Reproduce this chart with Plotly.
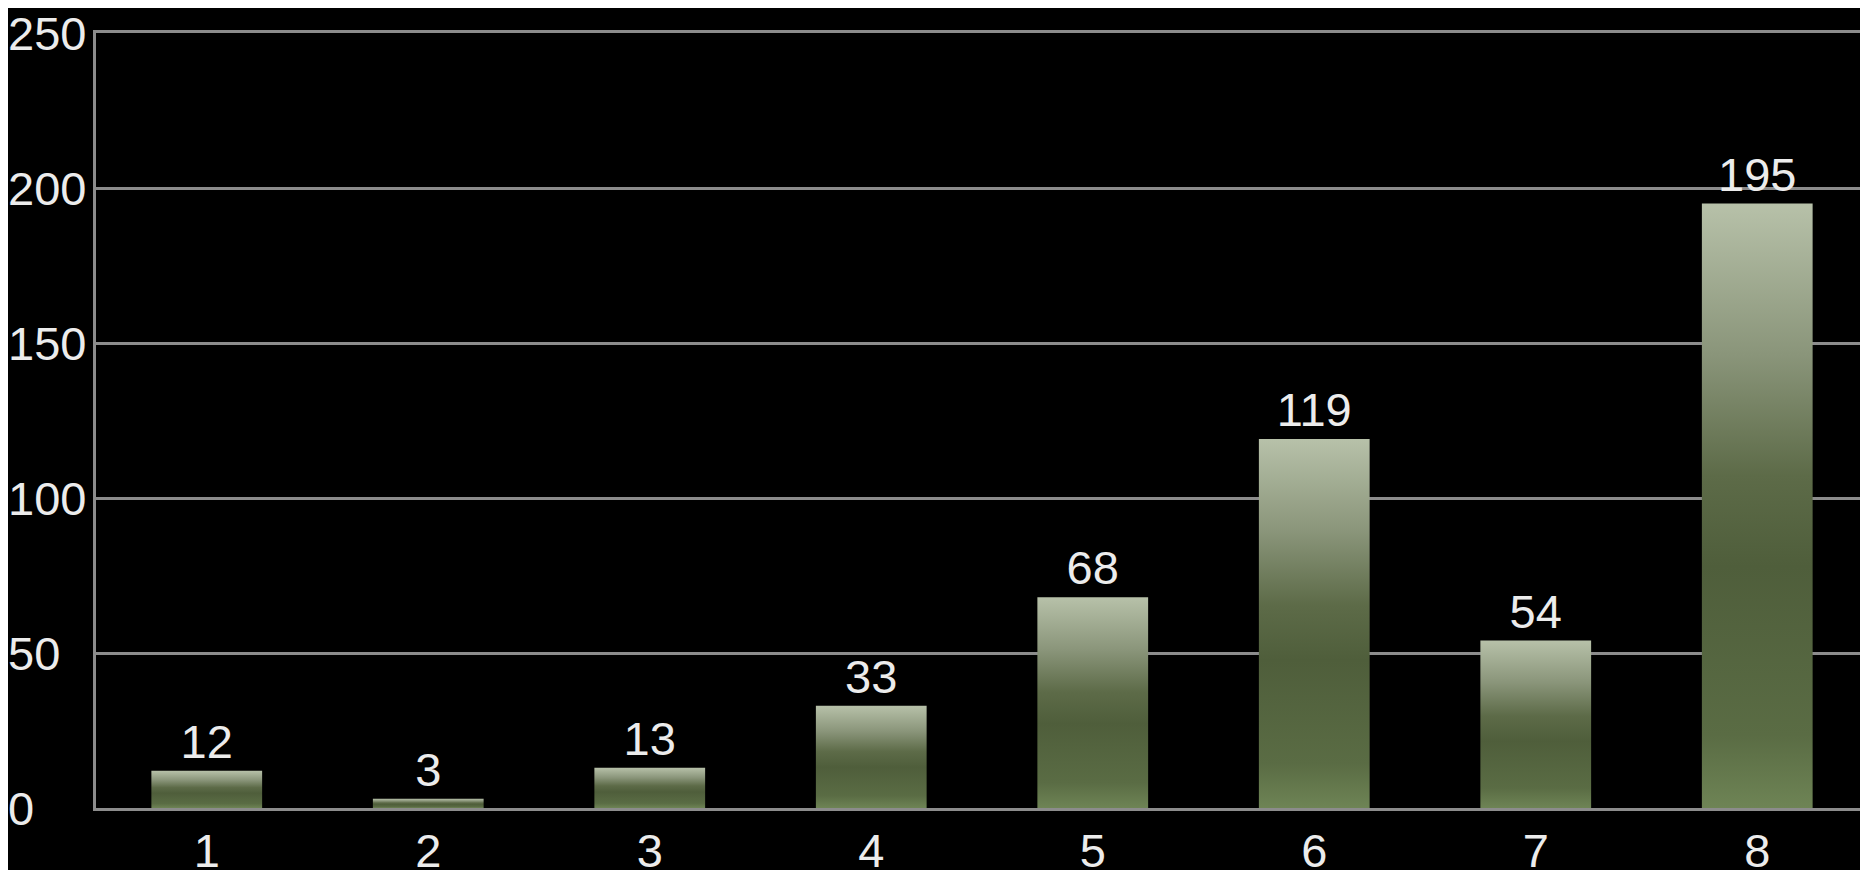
import plotly.graph_objects as go

# chart data
categories = [1, 2, 3, 4, 5, 6, 7, 8]
values = [12, 3, 13, 33, 68, 119, 54, 195]
y_ticks = [0, 50, 100, 150, 200, 250]

BAR_W = 0.5
GRID = '#8c8c8c'
TXT = '#ececec'
FONT = 'Liberation Sans, Arial, sans-serif'
FS = 47

# green bar gradient, bottom (0) -> top (1)
bar_scale = [[0.0, '#6e8455'], [0.12, '#5a6c44'], [0.4, '#4f5e3b'],
             [0.55, '#5d6b48'], [0.75, '#8a957a'], [1.0, '#b7c1a9']]

fig = go.Figure()

# invisible bars just to carry the value labels
fig.add_trace(go.Bar(
    x=categories, y=values, width=BAR_W,
    marker=dict(color='rgba(0,0,0,0)', line=dict(width=0)),
    text=values, textposition='outside', cliponaxis=False,
    textfont=dict(size=FS, color=TXT, family=FONT),
    hoverinfo='x+y', showlegend=False,
))

# gradient-filled bar shapes
for c, v in zip(categories, values):
    x0, x1 = c - BAR_W / 2, c + BAR_W / 2
    fig.add_trace(go.Scatter(
        x=[x0, x1, x1, x0, x0], y=[0, 0, v, v, 0],
        mode='lines', fill='toself', line=dict(width=0),
        fillgradient=dict(type='vertical', colorscale=bar_scale),
        hoverinfo='skip', showlegend=False,
    ))

# y tick labels are left aligned against the page edge
for t in y_ticks:
    fig.add_annotation(x=0, xref='paper', y=t, yref='y', text=str(t),
                       showarrow=False, xanchor='left', xshift=-90,
                       font=dict(size=FS, color=TXT, family=FONT))

# page body has an 8px margin, so the figure is sized to fill the rest
fig.update_layout(
    width=1860, height=862,
    margin=dict(l=88, r=0, t=25, b=62),
    plot_bgcolor='#000000', paper_bgcolor='#000000',
    font=dict(family=FONT, color=TXT),
    xaxis=dict(range=[0.5, 8.5], tickvals=categories, ticktext=[str(c) for c in categories],
               tickfont=dict(size=FS, color=TXT), showgrid=False, zeroline=False,
               showline=True, mirror=True, linecolor=GRID, linewidth=3, ticks='',
               ticklabelstandoff=0, automargin=False),
    yaxis=dict(range=[0, 250], tickvals=y_ticks, showticklabels=False,
               showgrid=True, gridcolor=GRID, gridwidth=3, zeroline=False,
               showline=True, linecolor=GRID, linewidth=3, ticks=''),
)

fig.write_html("out.html")
